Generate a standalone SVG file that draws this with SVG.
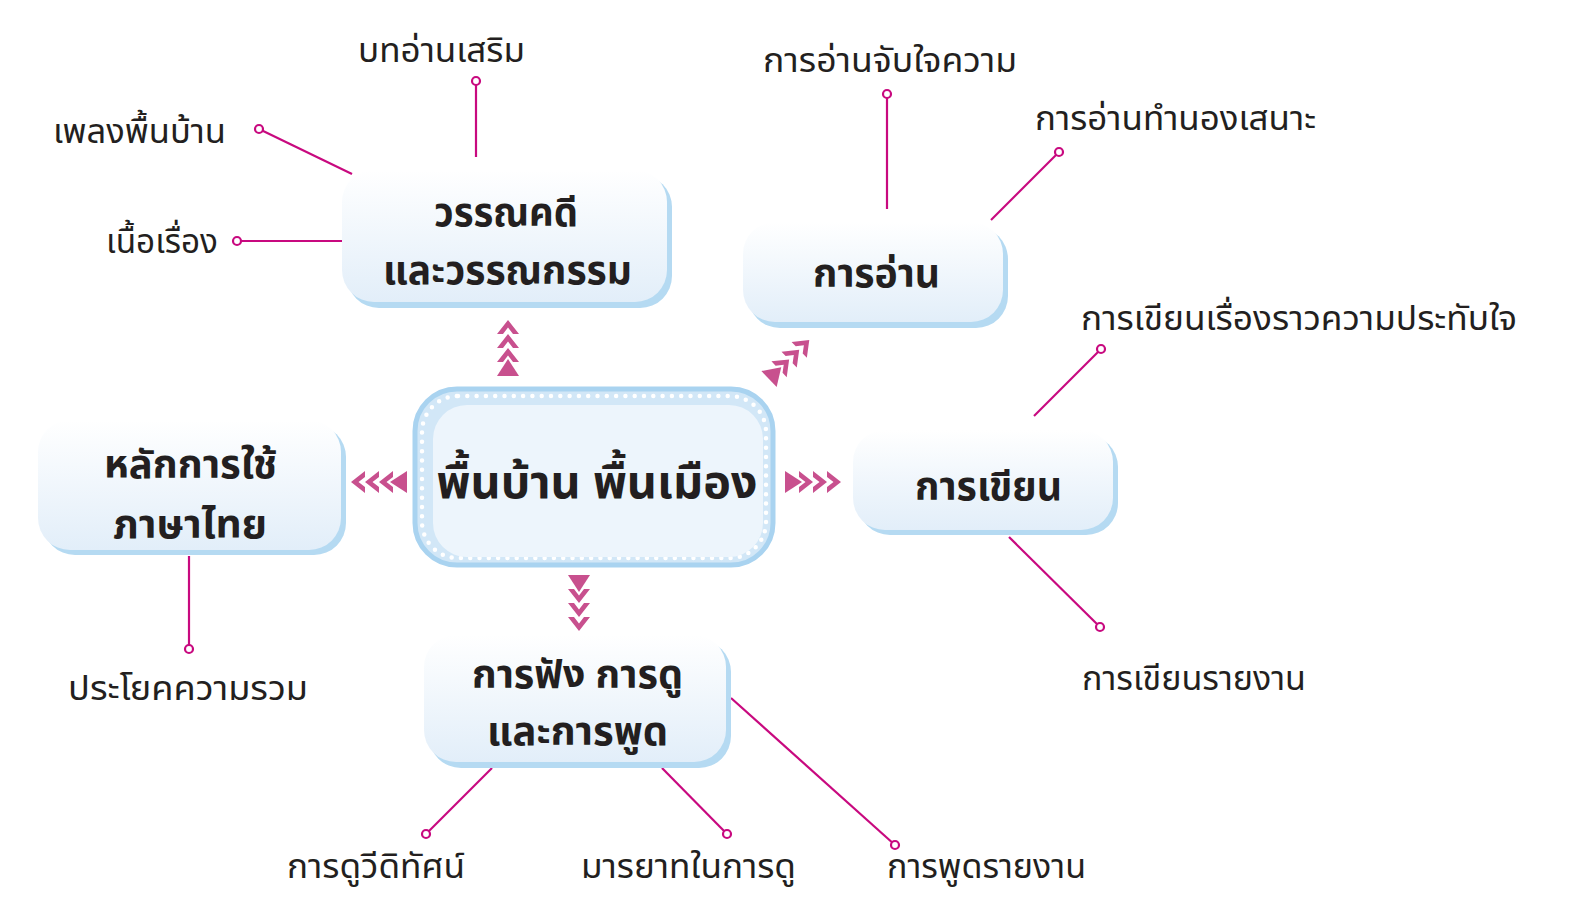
<svg xmlns="http://www.w3.org/2000/svg" width="1571" height="907" viewBox="0 0 1571 907">
<defs>
<linearGradient id="boxg" x1="0" y1="0" x2="0" y2="1">
<stop offset="0" stop-color="#ffffff"/>
<stop offset="1" stop-color="#e2eef9"/>
</linearGradient>
<g id="arr">
<polygon points="0,-11 17,0 0,11"/>
<polygon points="14,-11 28,0 14,11 14,5 20.5,0 14,-5"/>
<polygon points="28,-11 42,0 28,11 28,5 34.5,0 28,-5"/>
<polygon points="42,-11 56,0 42,11 42,5 48.5,0 42,-5"/>
</g>
</defs>
<style>
.lbl{font-family:"Noto Sans Thai","Noto Sans","Liberation Sans",sans-serif;font-size:33px;fill:#231f20;text-anchor:middle}
.ttl{font-family:"Noto Sans Thai","Noto Sans","Liberation Sans",sans-serif;font-size:39px;font-weight:bold;fill:#231f20;text-anchor:middle}
.shadow{fill:#b5daf2}
.box{fill:url(#boxg)}
.con line{stroke:#c8097f;stroke-width:2.2}
.con circle{fill:#fff;stroke:#c8097f;stroke-width:2.2}
.arrows{fill:#c8508e}
</style>
<rect width="1571" height="907" fill="#fff"/>

<g id="connectors" class="con">
<line x1="476" y1="157" x2="476" y2="81"/><circle cx="476" cy="81" r="4"/>
<line x1="352" y1="174" x2="259" y2="129"/><circle cx="259" cy="129" r="4"/>
<line x1="342" y1="241" x2="237" y2="241"/><circle cx="237" cy="241" r="4"/>
<line x1="887" y1="209" x2="887" y2="94"/><circle cx="887" cy="94" r="4"/>
<line x1="991" y1="220" x2="1059" y2="152"/><circle cx="1059" cy="152" r="4"/>
<line x1="1034" y1="416" x2="1101" y2="349"/><circle cx="1101" cy="349" r="4"/>
<line x1="1009" y1="537" x2="1100" y2="627"/><circle cx="1100" cy="627" r="4"/>
<line x1="189" y1="556" x2="189" y2="649"/><circle cx="189" cy="649" r="4"/>
<line x1="492" y1="768" x2="426" y2="834"/><circle cx="426" cy="834" r="4"/>
<line x1="662" y1="768" x2="727" y2="834"/><circle cx="727" cy="834" r="4"/>
<line x1="731" y1="698" x2="895" y2="845"/><circle cx="895" cy="845" r="4"/>
</g>

<g id="arrows" class="arrows">
<use href="#arr" transform="translate(508,376) rotate(-90)"/>
<use href="#arr" transform="translate(407,482) rotate(180)"/>
<use href="#arr" transform="translate(785,482)"/>
<use href="#arr" transform="translate(579,575) rotate(90)"/>
<use href="#arr" transform="translate(769,379) rotate(-44)"/>
</g>

<g id="center">
<rect x="415" y="389" width="358" height="176" rx="42" fill="#d2e7f7" stroke="#a9d3f0" stroke-width="5"/>
<rect x="422" y="396" width="344" height="162" rx="36" fill="none" stroke="#fff" stroke-width="4.5" stroke-linecap="round" stroke-dasharray="0 9.3"/>
<rect x="433" y="405" width="330" height="152" rx="34" fill="#edf5fc"/>
<text class="ttl" x="597" y="498" style="font-size:47px" textLength="321" lengthAdjust="spacingAndGlyphs">พื้นบ้าน พื้นเมือง</text>
</g>

<g id="n-literature">
<rect class="shadow" x="347" y="175" width="325" height="133" rx="32"/>
<rect class="box" x="342" y="170" width="325" height="132" rx="32"/>
<text class="ttl" x="506" y="226" textLength="144" lengthAdjust="spacingAndGlyphs">วรรณคดี</text>
<text class="ttl" x="507.5" y="284" textLength="249" lengthAdjust="spacingAndGlyphs">และวรรณกรรม</text>
</g>

<g id="n-reading">
<rect class="shadow" x="748" y="227" width="260" height="101" rx="32"/>
<rect class="box" x="743" y="222" width="260" height="100" rx="32"/>
<text class="ttl" x="876.5" y="287" textLength="127" lengthAdjust="spacingAndGlyphs">การอ่าน</text>
</g>

<g id="n-writing">
<rect class="shadow" x="858" y="435" width="260" height="100" rx="32"/>
<rect class="box" x="853" y="430" width="260" height="100" rx="32"/>
<text class="ttl" x="988.5" y="500" textLength="147" lengthAdjust="spacingAndGlyphs">การเขียน</text>
</g>

<g id="n-listening">
<rect class="shadow" x="429" y="640" width="302" height="128" rx="32"/>
<rect class="box" x="424" y="635" width="302" height="127" rx="32"/>
<text class="ttl" x="577.5" y="688" textLength="211" lengthAdjust="spacingAndGlyphs">การฟัง การดู</text>
<text class="ttl" x="577.5" y="745" textLength="181" lengthAdjust="spacingAndGlyphs">และการพูด</text>
</g>

<g id="n-grammar">
<rect class="shadow" x="43" y="425" width="303" height="130" rx="32"/>
<rect class="box" x="38" y="420" width="303" height="130" rx="32"/>
<text class="ttl" x="190.5" y="478" textLength="173" lengthAdjust="spacingAndGlyphs">หลักการใช้</text>
<text class="ttl" x="190" y="538" textLength="154" lengthAdjust="spacingAndGlyphs">ภาษาไทย</text>
</g>

<g id="labels">
<text class="lbl" x="441.5" y="62" textLength="167" lengthAdjust="spacingAndGlyphs">บทอ่านเสริม</text>
<text class="lbl" x="139.5" y="143" textLength="173" lengthAdjust="spacingAndGlyphs">เพลงพื้นบ้าน</text>
<text class="lbl" x="162" y="253" textLength="112" lengthAdjust="spacingAndGlyphs">เนื้อเรื่อง</text>
<text class="lbl" x="890" y="72" textLength="254" lengthAdjust="spacingAndGlyphs">การอ่านจับใจความ</text>
<text class="lbl" x="1175.5" y="130" textLength="281" lengthAdjust="spacingAndGlyphs">การอ่านทำนองเสนาะ</text>
<text class="lbl" x="1299" y="330" textLength="436" lengthAdjust="spacingAndGlyphs">การเขียนเรื่องราวความประทับใจ</text>
<text class="lbl" x="1194" y="690" textLength="224" lengthAdjust="spacingAndGlyphs">การเขียนรายงาน</text>
<text class="lbl" x="188" y="700" textLength="240" lengthAdjust="spacingAndGlyphs">ประโยคความรวม</text>
<text class="lbl" x="376" y="878" textLength="178" lengthAdjust="spacingAndGlyphs">การดูวีดิทัศน์</text>
<text class="lbl" x="688.5" y="878" textLength="215" lengthAdjust="spacingAndGlyphs">มารยาทในการดู</text>
<text class="lbl" x="986.5" y="878" textLength="199" lengthAdjust="spacingAndGlyphs">การพูดรายงาน</text>
</g>
</svg>
